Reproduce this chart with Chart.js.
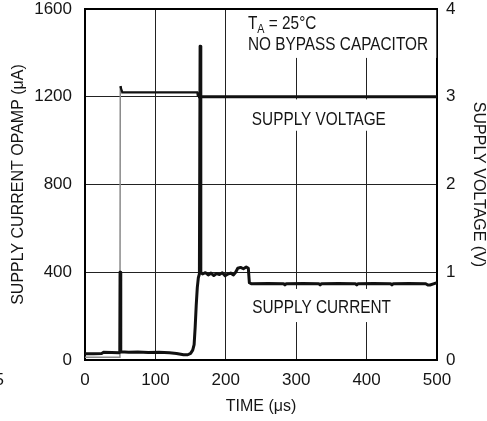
<!DOCTYPE html>
<html>
<head>
<meta charset="utf-8">
<script src="https://cdn.jsdelivr.net/npm/chart.js@4.4.1/dist/chart.umd.min.js"></script>
<style>
  html, body { margin:0; padding:0; background:#fff; }
  #wrap { width:487px; height:421px; }
</style>
</head>
<body>
<div id="wrap"><canvas id="c" width="487" height="421"></canvas></div>
<script>
// supply current of the opamp (µA) vs time (µs)
const currentTime  = [0, 12, 24, 26, 38, 48, 49.4, 49.8, 50.6, 51, 62, 75, 90, 105, 120, 130, 140, 146, 150, 153, 155, 156.5, 158, 159.5, 161, 162.5, 163.5, 164.5, 167, 171, 175, 179, 183, 187, 191, 195, 199, 203, 207, 211, 214, 217, 221, 225, 229, 232, 233.5, 236, 260, 282, 284, 286, 310, 332, 334, 336, 360, 384, 386, 388, 410, 434, 436, 438, 460, 484, 487, 490, 496, 500];
const currentValue = [28, 29, 30, 35, 34, 33, 35, 400, 400, 38, 35, 36, 34, 35, 33, 30, 24, 24, 30, 45, 70, 150, 250, 330, 375, 392, 1430, 400, 392, 398, 388, 396, 385, 394, 390, 398, 384, 392, 396, 388, 400, 418, 422, 416, 424, 418, 352, 348, 349, 348, 342, 348, 349, 348, 342, 348, 349, 348, 342, 348, 349, 348, 342, 348, 349, 348, 342, 342, 348, 352];

// supply voltage (V) vs time (µs)
const voltageTime  = [0, 49.6, 50.1, 51, 53, 100, 159.5, 160.5, 200, 300, 400, 500];
const voltageValue = [0.03, 0.03, 3.12, 3.1, 3.05, 3.05, 3.05, 3.0, 3.0, 3.0, 3.0, 3.0];

const timeTicks    = [0, 100, 200, 300, 400, 500];
const currentTicks = [0, 400, 800, 1200, 1600];
const voltageTicks = [0, 1, 2, 3, 4];

const FONT = "'Liberation Sans', Arial, sans-serif";
const INK = '#151515';

const pts = (xs, ys) => xs.map((x, i) => ({x, y: ys[i]}));

// narrow lettering like the datasheet: squeeze the text sideways
function narrowText(ctx, text, x, y, size, squeeze) {
  ctx.save();
  ctx.font = `${size}px ${FONT}`;
  ctx.translate(x, y);
  ctx.scale(squeeze, 1);
  ctx.fillText(text, 0, 0);
  const w = ctx.measureText(text).width * squeeze;
  ctx.restore();
  return w;
}

// white label boxes + texts, placed in data units
const notes = {
  id: 'notes',
  beforeDatasetsDraw(chart) {
    const {ctx, scales:{x, y}} = chart;
    const px = t => x.getPixelForValue(t), py = v => y.getPixelForValue(v);
    ctx.save();
    ctx.fillStyle = '#fff';
    [[226, 499, 1597, 1377], [232, 440, 1188, 1045], [232, 440, 324, 173]].forEach(([t0, t1, v0, v1]) => {
      ctx.fillRect(px(t0), py(v0), px(t1) - px(t0), py(v1) - py(v0));
    });
    ctx.fillStyle = INK;
    ctx.textBaseline = 'alphabetic';
    ctx.textAlign = 'left';
    const sq = 0.83;
    let tx = px(231.5);
    const ty = py(1508);
    tx += narrowText(ctx, 'T', tx, ty, 18.5, sq);
    tx += narrowText(ctx, 'A', tx, ty + 4, 13, sq);
    narrowText(ctx, ' = 25°C', tx, ty, 18.5, sq);
    narrowText(ctx, 'NO BYPASS CAPACITOR', px(231.5), py(1413), 18.5, sq);
    narrowText(ctx, 'SUPPLY VOLTAGE', px(237), py(1071), 18.5, sq);
    narrowText(ctx, 'SUPPLY CURRENT', px(237.5), py(214), 18.5, sq);
    ctx.restore();
  },
  afterDraw(chart) {
    const {ctx, chartArea:a} = chart;
    ctx.save();
    ctx.strokeStyle = '#000';
    ctx.lineWidth = 2;
    ctx.beginPath(); ctx.moveTo(a.left - 1, a.top); ctx.lineTo(a.right + 1, a.top); ctx.stroke();
    // leftover digit from the neighbouring plot
    ctx.fillStyle = INK;
    ctx.font = `17px ${FONT}`;
    ctx.textAlign = 'right';
    ctx.fillText('5', 4, 385);
    ctx.restore();
  }
};

const tickFont = {family: FONT, size: 17, lineHeight: 1};
const titleFont = {family: FONT, size: 16, lineHeight: 1};
const plain = v => String(v);
const noPad = s => { s.paddingTop = 0; s.paddingBottom = 0; s.paddingLeft = 0; s.paddingRight = 0; };

new Chart(document.getElementById('c'), {
  type: 'line',
  data: {
    datasets: [
      {
        label: 'Supply current', yAxisID: 'y',
        data: pts(currentTime, currentValue),
        borderColor: '#111', borderWidth: 3, pointRadius: 0, tension: 0, borderJoinStyle: 'round'
      },
      {
        label: 'Supply voltage', yAxisID: 'y1',
        data: pts(voltageTime, voltageValue),
        borderColor: '#111', borderWidth: 3, pointRadius: 0, tension: 0,
        segment: {
          borderColor: c => c.p0DataIndex < 2 ? '#8a8a8a' : '#111',
          borderWidth: c => c.p0DataIndex < 2 ? 1.5 : (c.p0DataIndex < 7 ? 2.2 : 3)
        }
      }
    ]
  },
  options: {
    responsive: false, animation: false, devicePixelRatio: 1,
    layout: {padding: {top: 9, left: 0, right: 0, bottom: 0}},
    plugins: {legend: {display: false}, tooltip: {enabled: false}},
    scales: {
      x: {
        type: 'linear', min: 0, max: 500,
        afterBuildTicks: s => { s.ticks = timeTicks.map(v => ({value: v})); },
        afterFit: s => { s.height = 61; noPad(s); },
        grid: {color: '#222', lineWidth: 1, drawTicks: false},
        border: {color: '#000', width: 2},
        ticks: {font: tickFont, color: INK, padding: 12, callback: plain},
        title: {display: true, text: 'TIME (μs)', font: titleFont, color: INK, padding: {top: 0, bottom: 6}}
      },
      y: {
        position: 'left', min: 0, max: 1600,
        afterBuildTicks: s => { s.ticks = currentTicks.map(v => ({value: v})); },
        afterFit: s => { s.width = 85; noPad(s); },
        grid: {color: '#222', lineWidth: 1, drawTicks: false},
        border: {color: '#000', width: 2},
        ticks: {font: tickFont, color: INK, padding: 13, callback: plain},
        title: {display: true, text: 'SUPPLY CURRENT OPAMP (μA)', font: titleFont, color: INK, padding: {top: 11, bottom: 0}}
      },
      y1: {
        position: 'right', min: 0, max: 4,
        afterBuildTicks: s => { s.ticks = voltageTicks.map(v => ({value: v})); },
        afterFit: s => { s.width = 50; noPad(s); },
        grid: {drawOnChartArea: false, drawTicks: false},
        border: {color: '#000', width: 2},
        ticks: {font: tickFont, color: INK, padding: 9, callback: plain},
        title: {display: true, text: 'SUPPLY VOLTAGE (V)', font: titleFont, color: INK, padding: {top: 1, bottom: 0}}
      }
    }
  },
  plugins: [notes]
});
</script>
</body>
</html>
